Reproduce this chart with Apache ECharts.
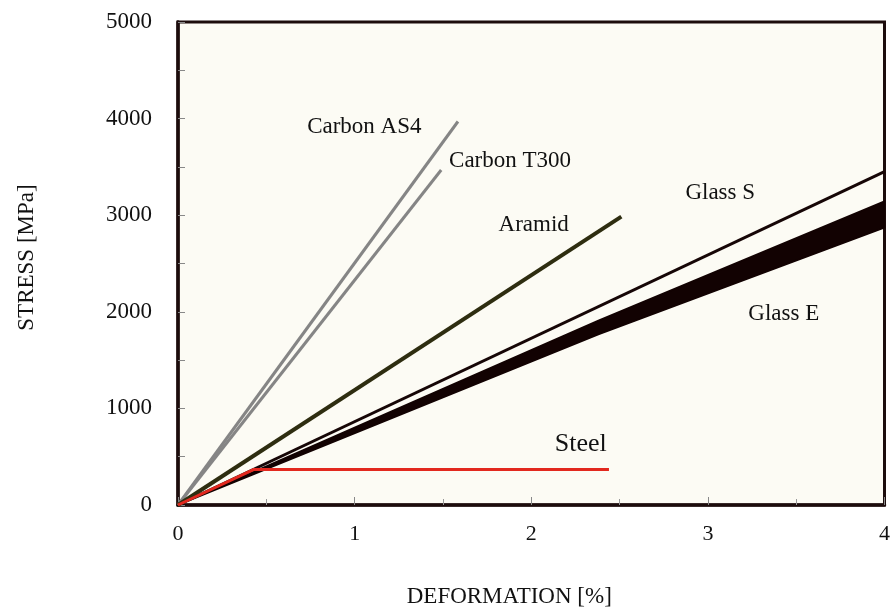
<!DOCTYPE html>
<html>
<head>
<meta charset="utf-8">
<script src="https://cdn.jsdelivr.net/npm/echarts@6/dist/echarts.min.js"></script>
<style>html,body{margin:0;padding:0;background:#fff}#c{width:893px;height:616px}</style>
</head>
<body>
<div id="c"></div>
<script>
// ---- data ----
var xTicks = [0, 1, 2, 3, 4];
var yTicks = [0, 1000, 2000, 3000, 4000, 5000];
var carbonAS4 = [[0, 0], [1.585, 3970]];
var carbonT300 = [[0, 0], [1.49, 3468]];
var aramid = [[0, 0], [2.51, 2985]];
var glassS = [[0, 0], [4, 3450]];
var glassEUpper = [[0, 0], [2.38, 1910], [4, 3145]];
var glassELower = [[0, 0], [2.38, 1765], [4, 2870]];
var steel = [[0, 0], [0.43, 368], [2.44, 368]];
var labelTexts = ['Carbon AS4', 'Carbon T300', 'Aramid', 'Glass S', 'Glass E', 'Steel'];
var labelX = [1.055, 1.88, 2.014, 3.07, 3.43, 2.28];
var labelY = [3913, 3561, 2899, 3230, 1977, 632];
var labelSizes = [23, 23, 23, 23, 23, 26];

var FONT = 'Liberation Serif';
var chart = echarts.init(document.getElementById('c'));
var labelData = labelTexts.map(function (t, i) {
  return { name: t, value: [labelX[i], labelY[i]], label: { fontSize: labelSizes[i] } };
});

function lineSeries(name, data, color, width) {
  return {
    name: name, type: 'line', data: data, symbol: 'none', silent: true,
    lineStyle: { color: color, width: width }, z: 3
  };
}

chart.setOption({
  animation: false,
  backgroundColor: '#ffffff',
  grid: {
    left: 178, right: 6, top: 22, bottom: 111,
    show: true, backgroundColor: '#fcfbf4', borderColor: '#1c0c0c', borderWidth: 3
  },
  xAxis: {
    type: 'value', min: 0, max: 4, interval: 1,
    name: 'DEFORMATION [%]', nameLocation: 'middle', nameGap: 80,
    nameTextStyle: { fontFamily: FONT, fontSize: 23, color: '#111', padding: [0, 44, 0, 0] },
    axisLine: { show: true, onZero: false, lineStyle: { color: '#1c0c0c', width: 3.5 } },
    axisTick: { show: true, inside: true, length: 8, lineStyle: { color: '#888', width: 1 } },
    minorTick: { show: true, splitNumber: 2, length: 6, lineStyle: { color: '#999', width: 1 } },
    splitLine: { show: false },
    axisLabel: { fontFamily: FONT, fontSize: 22, color: '#111', margin: 18,
      formatter: function (v) { return xTicks.indexOf(v) >= 0 ? String(v) : ''; } }
  },
  yAxis: {
    type: 'value', min: 0, max: 5000, interval: 1000,
    name: 'STRESS [MPa]', nameLocation: 'middle', nameGap: 140,
    nameTextStyle: { fontFamily: FONT, fontSize: 23, color: '#111', padding: [0, 0, 0, 12] },
    axisLine: { show: true, onZero: false, lineStyle: { color: '#1c0c0c', width: 3.5 } },
    axisTick: { show: true, inside: true, length: 7, lineStyle: { color: '#888', width: 1 } },
    minorTick: { show: true, splitNumber: 2, length: 7, lineStyle: { color: '#888', width: 1 } },
    splitLine: { show: false },
    axisLabel: { fontFamily: FONT, fontSize: 23, color: '#111', margin: 26,
      formatter: function (v) { return yTicks.indexOf(v) >= 0 ? String(v) : ''; } }
  },
  series: [
    {
      name: 'Glass E', type: 'custom', silent: true, z: 2,
      data: [[0, 0]],
      encode: { x: 0, y: 1 },
      renderItem: function (params, api) {
        var pts = [];
        glassEUpper.forEach(function (p) { pts.push(api.coord(p)); });
        glassELower.slice().reverse().forEach(function (p) { pts.push(api.coord(p)); });
        return {
          type: 'polygon',
          shape: { points: pts },
          style: { fill: '#120202', stroke: '#120202', lineWidth: 1.5 }
        };
      }
    },
    lineSeries('Glass S', glassS, '#160606', 3),
    lineSeries('Carbon AS4', carbonAS4, '#858585', 3),
    lineSeries('Carbon T300', carbonT300, '#858585', 3),
    lineSeries('Aramid', aramid, '#2e2d10', 4),
    lineSeries('Steel', steel, '#e2281e', 3),
    {
      name: 'labels', type: 'scatter', symbolSize: 0, silent: true, z: 5,
      data: labelData,
      itemStyle: { color: '#111', opacity: 1 },
      label: {
        show: true, position: 'inside', formatter: '{b}',
        fontFamily: FONT, color: '#111', opacity: 1, align: 'center', verticalAlign: 'middle'
      }
    }
  ]
});
</script>
</body>
</html>
